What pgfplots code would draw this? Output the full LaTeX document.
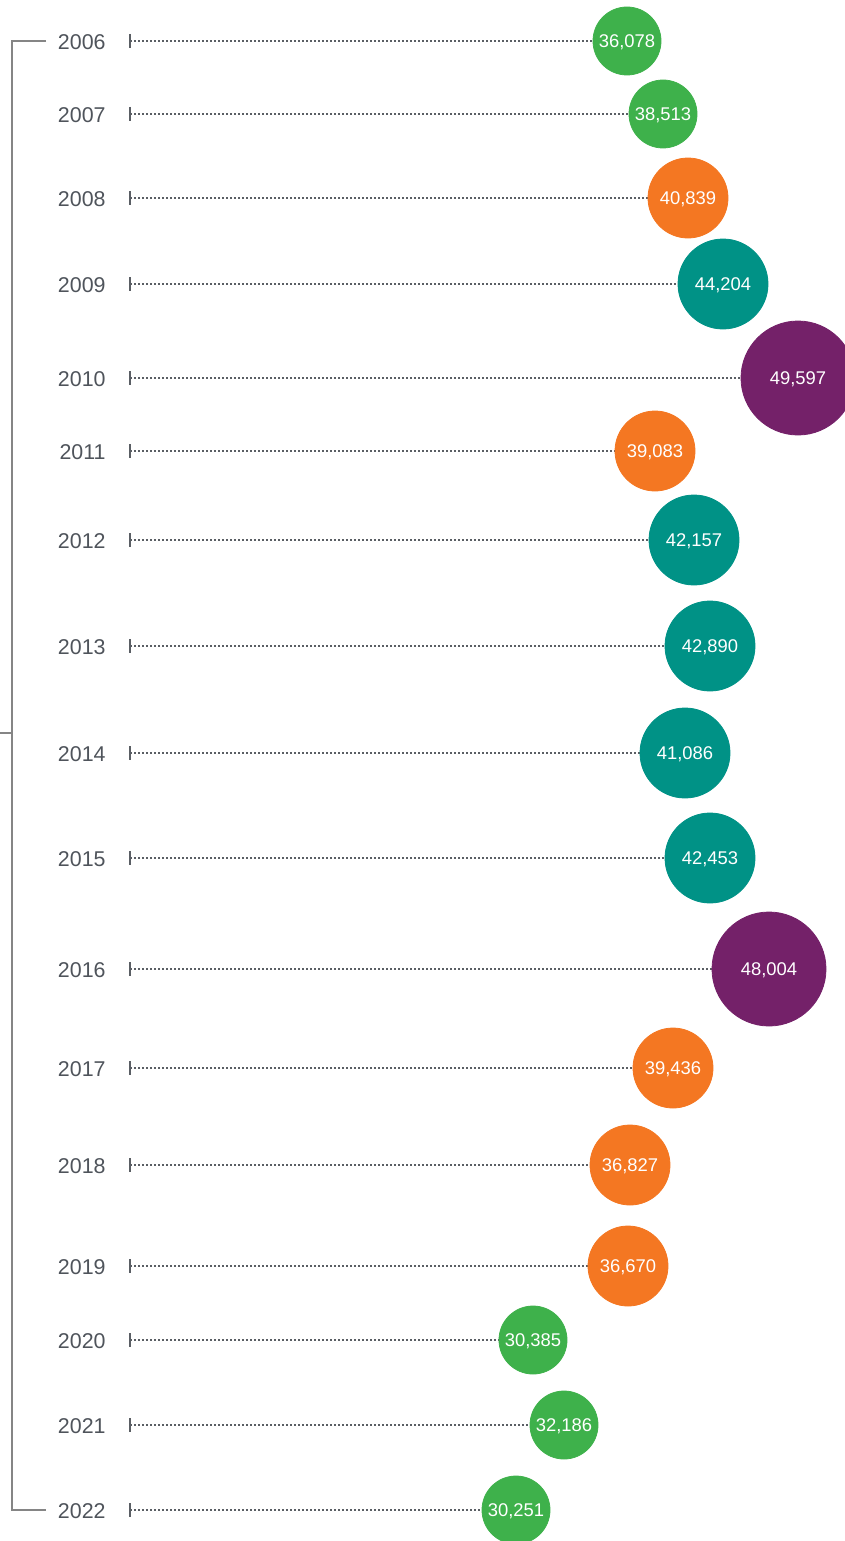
\documentclass[border=0pt]{standalone}
\usepackage{pgfplots}
\pgfplotsset{compat=1.18}
\usepackage{pgfplotstable}
\usepackage{fontspec}
\setmainfont{Liberation Sans}
\definecolor{cgreen}{HTML}{3EB14B}
\definecolor{corange}{HTML}{F47722}
\definecolor{cteal}{HTML}{009286}
\definecolor{cpurple}{HTML}{742169}
\definecolor{ctext}{HTML}{4F545B}
\definecolor{cline}{HTML}{5A5E64}
\definecolor{cbr}{HTML}{858585}

% y = vertical position (px from top), xpos = bubble centre (px)
\pgfplotstableread{
year y xpos val cat
2006 41 627 36078 g
2007 114 663 38513 g
2008 198 688 40839 o
2009 284 723 44204 t
2010 378 798 49597 p
2011 451 655 39083 o
2012 540 694 42157 t
2013 646 710 42890 t
2014 753 685 41086 t
2015 858 710 42453 t
2016 969 769 48004 p
2017 1068 673 39436 o
2018 1165 630 36827 o
2019 1266 628 36670 o
2020 1340 533 30385 g
2021 1425 564 32186 g
2022 1510 516 30251 g
}\data

\begin{document}
\begin{tikzpicture}
\begin{axis}[
  scale only axis, width=422.5pt, height=770.5pt,
  xmin=0, xmax=845, ymin=0, ymax=1541, y dir=reverse,
  hide axis, clip=true,
]
% bracket
\addplot[color=cbr, line width=0.7pt, no markers] coordinates {(46,41) (12,41) (12,1510) (46,1510)};
\addplot[color=cbr, line width=0.7pt, no markers] coordinates {(0,733) (12,733)};
% dotted leader lines
\addplot[no markers, quiver={u=\thisrow{xpos}-130, v=0}, draw=cline, line width=0.9pt, dash pattern=on 0.8pt off 1.2pt]
  table[x expr=130, y=y] {\data};
% start ticks
\addplot[only marks, mark=|, mark size=3.5pt, mark options={line width=1.2pt, draw=cline}]
  table[x expr=130, y=y] {\data};
% bubbles
\addplot[scatter, only marks, scatter src=explicit symbolic,
  scatter/classes={
    g={mark=*, mark size=17pt, draw=cgreen, fill=cgreen},
    o={mark=*, mark size=20pt, draw=corange, fill=corange},
    t={mark=*, mark size=22.5pt, draw=cteal, fill=cteal},
    p={mark=*, mark size=28.5pt, draw=cpurple, fill=cpurple}}]
  table[x=xpos, y=y, meta=cat] {\data};
% value labels
\addplot[only marks, mark=none, point meta=explicit, nodes near coords,
  every node near coord/.style={anchor=center, inner sep=0pt, yshift=-0.7pt, text=white, font=\fontsize{9.2}{10}\selectfont,
    /pgf/number format/.cd, fixed, precision=0, 1000 sep={,}, assume math mode=true}]
  table[x=xpos, y=y, meta=val] {\data};
% year labels
\addplot[only marks, mark=none, point meta=explicit symbolic, nodes near coords,
  every node near coord/.style={anchor=east, inner sep=0pt, text=ctext, font=\fontsize{10.7}{12}\selectfont}]
  table[x expr=106, y expr=\thisrow{y}+1.5, meta=year] {\data};
\end{axis}
\pgfresetboundingbox
\path[use as bounding box] (current axis.south west) rectangle (current axis.north east);
\end{tikzpicture}
\end{document}
